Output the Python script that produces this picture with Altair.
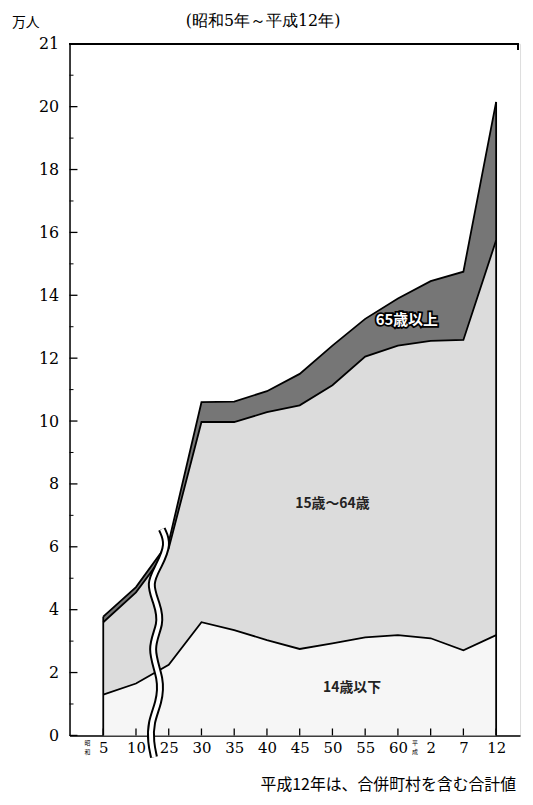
import altair as alt
import pandas as pd

# ---- data (万人) ----
year_labels = ["5", "10", "25", "30", "35", "40", "45", "50", "55", "60", "2", "7", "12"]
under15 = [1.30, 1.65, 2.25, 3.60, 3.35, 3.03, 2.75, 2.93, 3.12, 3.19, 3.09, 2.71, 3.19]
age15_64 = [2.30, 2.90, 3.70, 6.37, 6.62, 7.25, 7.75, 8.21, 8.93, 9.21, 9.46, 9.87, 12.56]
over65 = [0.18, 0.17, 0.20, 0.63, 0.65, 0.67, 1.00, 1.26, 1.20, 1.50, 1.90, 2.17, 4.40]
groups = ["14歳以下", "15歳～64歳", "65歳以上"]
group_colors = ["#f6f6f6", "#dcdcdc", "#767676"]

# axis break (wavy double line), in data units
break_x = [1.79, 2.00, 1.70, 1.39, 1.64, 1.79, 1.39, 1.79, 1.70, 1.45, 1.45, 1.55]
break_y = [6.56, 6.09, 5.39, 4.83, 4.20, 3.56, 2.78, 1.77, 1.04, 0.41, -0.22, -0.69]

W, H = 454, 697
FONT = "DejaVu Serif"
JFONT = "Noto Sans CJK JP"

# ---- tables ----
n = len(year_labels)
idx = list(range(n))
c1 = under15
c2 = [a + b for a, b in zip(under15, age15_64)]
c3 = [a + b + c for a, b, c in zip(under15, age15_64, over65)]

rows = []
for i in idx:
    rows.append({"idx": i, "lo": 0.0, "hi": c1[i], "grp": groups[0]})
    rows.append({"idx": i, "lo": c1[i], "hi": c2[i], "grp": groups[1]})
    rows.append({"idx": i, "lo": c2[i], "hi": c3[i], "grp": groups[2]})
area_df = pd.DataFrame(rows)

lines_df = pd.DataFrame(
    [{"idx": i, "v": c1[i], "ln": "a"} for i in idx]
    + [{"idx": i, "v": c2[i], "ln": "b"} for i in idx]
    + [{"idx": i, "v": c3[i], "ln": "c"} for i in idx]
)
edges_df = pd.DataFrame({"idx": [0, n - 1], "top": [c3[0], c3[-1]], "bot": [0, 0]})
ticks_df = pd.DataFrame({"idx": idx})
even_df = pd.DataFrame({"v": list(range(0, 23, 2))})
odd_df = pd.DataFrame({"v": list(range(1, 22, 2))})
break_df = pd.DataFrame({"x": break_x, "y": break_y, "o": list(range(len(break_x)))})

xs = alt.Scale(domain=[-1.03, 12.73], nice=False, zero=False)
ys = alt.Scale(domain=[0, 22], nice=False)

label_expr = "[" + ",".join("'%s'" % s for s in year_labels) + "][datum.value]"
x_axis = alt.Axis(
    values=idx, labelExpr=label_expr, title=None, grid=False, ticks=False,
    domainColor="black", domainWidth=1.5, labelFont=FONT, labelFontSize=15,
    labelColor="black", labelPadding=5, labelOverlap=False, labelFlush=False,
    labelBound=False)
y_axis = alt.Axis(
    values=list(range(0, 21, 2)) + [22],
    labelExpr="datum.value == 22 ? '21' : datum.label",
    title=None, grid=False, ticks=False, domainColor="black", domainWidth=1.5,
    labelFont=FONT, labelFontSize=16, labelColor="black", labelPadding=11,
    labelOverlap=False, labelFlush=False)


def X(f):
    return alt.X(f, scale=xs, axis=x_axis)


def Y(f):
    return alt.Y(f, scale=ys, axis=y_axis)


areas = alt.Chart(area_df).mark_area(strokeWidth=0).encode(
    x=X("idx:Q"), y=Y("lo:Q"), y2="hi:Q",
    color=alt.Color("grp:N", scale=alt.Scale(domain=groups, range=group_colors), legend=None),
    detail="grp:N",
)

bounds = alt.Chart(lines_df).mark_line(color="black", strokeWidth=1.8).encode(
    x=X("idx:Q"), y=Y("v:Q"), detail="ln:N"
)

edges = alt.Chart(edges_df).mark_rule(color="black", strokeWidth=1.8).encode(
    x=X("idx:Q"), y=Y("bot:Q"), y2="top:Q"
)

xticks = alt.Chart(ticks_df).mark_rule(color="black", strokeWidth=1.3).encode(
    x=X("idx:Q"), y=alt.value(H), y2=alt.value(H - 7)
)
yticks_even = alt.Chart(even_df).mark_rule(color="black", strokeWidth=1.3).encode(
    y=Y("v:Q"), x=alt.value(0), x2=alt.value(8)
)
yticks_odd = alt.Chart(odd_df).mark_rule(color="black", strokeWidth=1).encode(
    y=Y("v:Q"), x=alt.value(0), x2=alt.value(4)
)
top_frame = alt.Chart(ticks_df).mark_rule(color="black", strokeWidth=1.5).encode(
    x=alt.value(0), x2=alt.value(W - 2), y=alt.value(0)
)
right_stub = alt.Chart(ticks_df).mark_rule(color="black", strokeWidth=1.2).encode(
    x=alt.value(W - 2), y=alt.value(0), y2=alt.value(6)
)

wave_outer = alt.Chart(break_df).mark_line(color="black", strokeWidth=8, interpolate="basis").encode(
    x=X("x:Q"), y=Y("y:Q"), order="o:Q"
)
wave_inner = alt.Chart(break_df).mark_line(color="white", strokeWidth=4, interpolate="basis").encode(
    x=X("x:Q"), y=Y("y:Q"), order="o:Q"
)

lab_df = pd.DataFrame({"x": [7.0, 7.6], "y": [7.35, 1.5], "t": [groups[1], groups[0]]})
labels = alt.Chart(lab_df).mark_text(font=JFONT, fontSize=14, fontWeight="bold", color="#222").encode(
    x=X("x:Q"), y=Y("y:Q"), text="t:N"
)
lab65 = pd.DataFrame({"x": [9.27], "y": [13.2], "t": [groups[2]]})
l65_stroke = alt.Chart(lab65).mark_text(font=JFONT, fontSize=15, fontWeight="bold",
                                        color="black", stroke="black", strokeWidth=3.5).encode(
    x=X("x:Q"), y=Y("y:Q"), text="t:N"
)
l65_fill = alt.Chart(lab65).mark_text(font=JFONT, fontSize=15, fontWeight="bold", color="white").encode(
    x=X("x:Q"), y=Y("y:Q"), text="t:N"
)

# small vertical era marks (昭和 / 平成) beside the first and 11th labels
era_top = pd.DataFrame({"x": [-0.48, 9.52], "t": ["昭", "平"]})
era_bot = pd.DataFrame({"x": [-0.48, 9.52], "t": ["和", "成"]})
era1 = alt.Chart(era_top).mark_text(font=JFONT, fontSize=6, color="black", baseline="top").encode(
    x=X("x:Q"), y=alt.value(H + 5), text="t:N"
)
era2 = alt.Chart(era_bot).mark_text(font=JFONT, fontSize=6, color="black", baseline="top").encode(
    x=X("x:Q"), y=alt.value(H + 14), text="t:N"
)

title_df = pd.DataFrame({"t": ["(昭和5年～平成12年)"]})
title = alt.Chart(title_df).mark_text(font=FONT, fontSize=16, color="black", baseline="alphabetic").encode(
    x=alt.value(195), y=alt.value(-18), text="t:N"
)
unit_df = pd.DataFrame({"t": ["万人"]})
unit = alt.Chart(unit_df).mark_text(font=JFONT, fontSize=14, color="black").encode(
    x=alt.value(-44), y=alt.value(-21), text="t:N"
)
note_df = pd.DataFrame({"t": ["平成12年は、合併町村を含む合計値"]})
note = alt.Chart(note_df).mark_text(font=JFONT, fontSize=16, color="black", align="right").encode(
    x=alt.value(450), y=alt.value(H + 50), text="t:N"
)

chart = alt.layer(
    areas, bounds, edges, xticks, yticks_even, yticks_odd, top_frame, right_stub,
    wave_outer, wave_inner, labels, l65_stroke, l65_fill, era1, era2, title, unit, note
).properties(
    width=W, height=H,
    autosize=alt.AutoSizeParams(type="none"),
    padding={"left": 62, "top": 33, "right": 5, "bottom": 60},
).configure_view(stroke=None).configure_axis(
    labelFont=FONT, labelOverlap=False
).configure(background="white")

chart.save("out.html", embed_options={"renderer": "svg", "actions": False})
